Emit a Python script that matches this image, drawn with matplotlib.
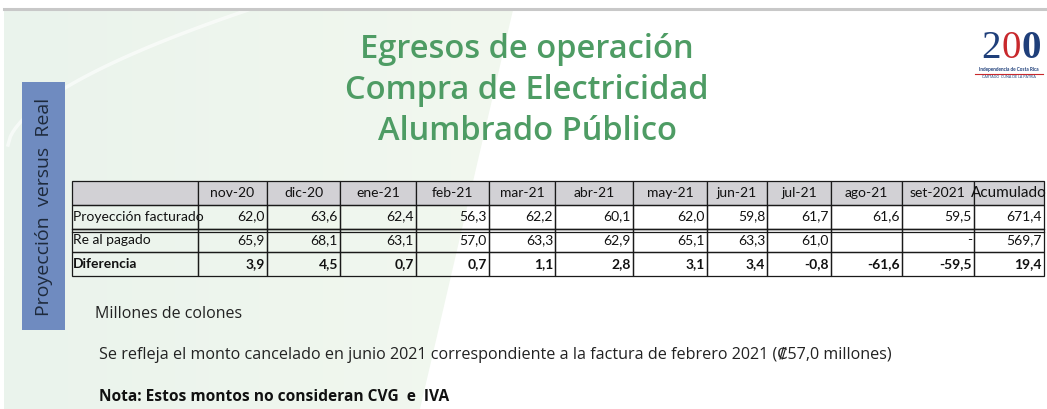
import numpy as np
import matplotlib as mpl
import matplotlib.pyplot as plt
from matplotlib.patches import Rectangle, Polygon

mpl.rcParams["font.family"] = ["Lato", "DejaVu Sans"]

W, H = 1047, 409

months = ["nov-20", "dic-20", "ene-21", "feb-21", "mar-21", "abr-21",
          "may-21", "jun-21", "jul-21", "ago-21", "set-2021"]
row_labels = ["Proyección facturado", "Re al pagado", "Diferencia"]
proyeccion = [62.0, 63.6, 62.4, 56.3, 62.2, 60.1, 62.0, 59.8, 61.7, 61.6, 59.5]
real_pagado = [65.9, 68.1, 63.1, 57.0, 63.3, 62.9, 65.1, 63.3, 61.0, None, 0.0]
diferencia = [3.9, 4.5, 0.7, 0.7, 1.1, 2.8, 3.1, 3.4, -0.8, -61.6, -59.5]
acumulado = [671.4, 569.7, 19.4]

title_lines = ["Egresos de operación", "Compra de Electricidad", "Alumbrado Público"]


def fmt(v):
    if v is None:
        return ""
    if v == 0:
        return "-"
    return f"{v:.1f}".replace(".", ",")


fig = plt.figure(figsize=(W / 100, H / 100), dpi=100)
ax = fig.add_axes([0, 0, 1, 1])
ax.set_xlim(0, W)
ax.set_ylim(H, 0)
ax.axis("off")

# background tint on the left side of the slide
grad = np.linspace(0, 1, 256).reshape(1, -1)
cmap = mpl.colors.LinearSegmentedColormap.from_list("bg", ["#eaf3ec", "#f2f8ef"])
im = ax.imshow(grad, extent=[4, 515, H, 10], cmap=cmap, aspect="auto", zorder=0)
clip = Polygon([[4, 10], [513, 10], [420, H], [4, H]], closed=True,
               transform=ax.transData)
im.set_clip_path(clip)
# faint decorative arc
t = np.linspace(0, 1, 100)
ax.plot(8 + 240 * t, 145 - 135 * t ** 0.6, color="white", lw=2.5, alpha=0.6, zorder=1)

# top rule
ax.plot([4, W], [8.5, 8.5], color="#c8c8c8", lw=2.2, zorder=2)

# vertical side label
ax.add_patch(Rectangle((22, 82), 43, 248, facecolor="#6f8bc0", edgecolor="none", zorder=2))
ax.text(44, 207, "Proyección  versus  Real", rotation=90, ha="center", va="center",
        fontsize=14, color="#1e2a3c", family=["Open Sans", "DejaVu Sans"], zorder=3)

# title
for i, line in enumerate(title_lines):
    ax.text(527, 50 + i * 40.5, line, ha="center", va="center", fontsize=23.5,
            color="#4e9c64", fontweight="semibold",
            family=["Open Sans", "DejaVu Sans"], zorder=3)

# logo
logo_font = ["Liberation Serif"]
ax.text(991, 49, "2", ha="center", va="center", fontsize=28, color="#1f3f7a",
        family=logo_font, zorder=3)
ax.text(1011, 49, "0", ha="center", va="center", fontsize=28, color="#c8282c",
        family=logo_font, zorder=3)
ax.text(1031, 49, "0", ha="center", va="center", fontsize=28, color="#1f3f7a",
        family=logo_font, fontweight="bold", zorder=3)
ax.text(1009, 70, "Independencia de Costa Rica", ha="center", va="center",
        fontsize=3.4, color="#1f3f7a", fontweight="bold", zorder=3)
ax.plot([975, 1043], [74, 74], color="#c8282c", lw=0.8, zorder=3)
ax.text(1009, 77.5, "CARTAGO  CUNA DE LA PATRIA", ha="center", va="center",
        fontsize=2.6, color="#1f3f7a", zorder=3)

# table
col_edges = [72, 198, 267, 340, 416, 489, 555, 633, 707, 767, 831, 902, 974, 1044]
col_widths = np.diff(col_edges)
rows = [[""] + months + ["Acumulado"]]
series = [proyeccion, real_pagado, diferencia]
for lab, vals, acc in zip(row_labels, series, acumulado):
    rows.append([lab] + [fmt(v) for v in vals] + [fmt(acc)])

top, bottom = 181, 276
tbl = ax.table(cellText=rows, colWidths=list(col_widths / col_widths.sum()),
               bbox=[col_edges[0] / W, 1 - bottom / H,
                     (col_edges[-1] - col_edges[0]) / W, (bottom - top) / H],
               zorder=4)
tbl.auto_set_font_size(False)
for (r, c), cell in tbl.get_celld().items():
    cell.set_edgecolor("#1a1a1a")
    cell.set_linewidth(0.9)
    cell.set_facecolor("#d2d1d5" if r == 0 else "none")
    txt = cell.get_text()
    txt.set_fontsize(10)
    txt.set_color("#111111")
    if r == 0:
        cell._loc = "center"
        txt.set_ha("center")
    elif c == 0:
        cell._loc = "left"
        txt.set_ha("left")
        cell.PAD = 0.01
    else:
        cell._loc = "right"
        txt.set_ha("right")
        cell.PAD = 0.03
    if r == 3:
        txt.set_fontweight("bold")
    if r == 0 and c == len(rows[0]) - 1:
        txt.set_fontsize(11)

# double rule between first and second data row
ax.plot([col_edges[0], col_edges[-1]], [229, 229], color="#1a1a1a", lw=0.9, zorder=5)
ax.plot([col_edges[0], col_edges[-1]], [231.5, 231.5], color="#1a1a1a", lw=0.9, zorder=5)

# notes
note_font = ["Open Sans", "DejaVu Sans"]
ax.text(95, 314, "Millones de colones", ha="left", va="center", fontsize=11.5,
        color="#222222", family=note_font)
ax.text(99, 355, "Se refleja el monto cancelado en junio 2021 correspondiente a la factura "
        "de febrero 2021 (\u20a157,0 millones)", ha="left", va="center", fontsize=11.6,
        color="#222222", family=note_font)
ax.text(99, 397, "Nota: Estos montos no consideran CVG  e  IVA", ha="left", va="center",
        fontsize=11.2, color="#111111", fontweight="bold", family=note_font)

fig.savefig("out.png", dpi=100)
